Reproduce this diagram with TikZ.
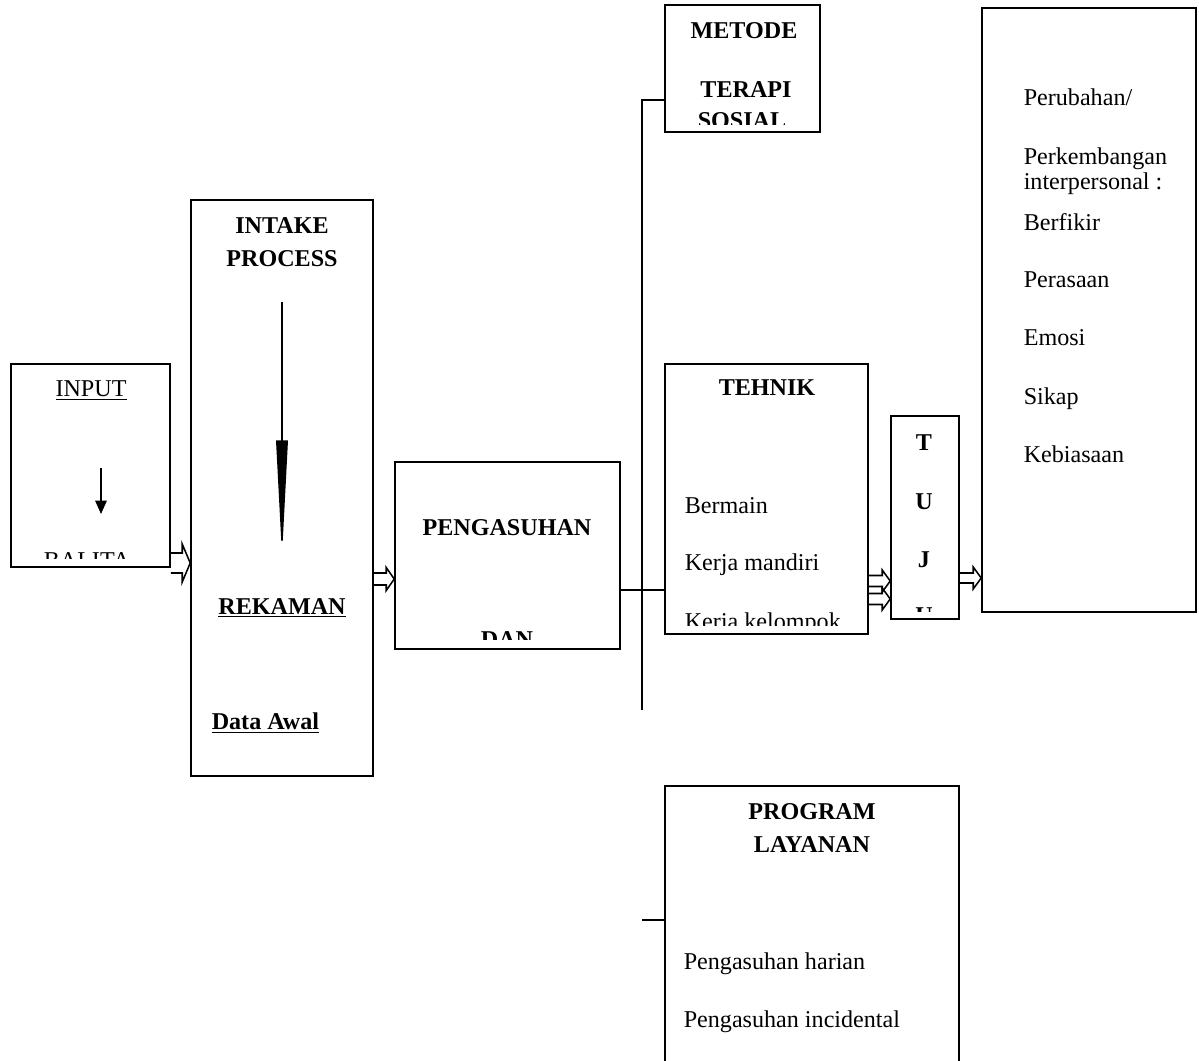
\documentclass[tikz,border=0pt]{standalone}
\usepackage{fontspec}
\setmainfont{Liberation Serif}
\usetikzlibrary{arrows.meta}
\usetikzlibrary{fit}
\usetikzlibrary{calc}

\tikzset{
  kotak/.style={draw, line width=0.8pt, inner sep=0pt},
  teks/.style={inner sep=0pt, font=\fontsize{12.5}{14}\selectfont},
  tebal/.style={inner sep=0pt, font=\fontsize{12.5}{14}\selectfont\bfseries},
}

% hollow block arrow: from, to, y, shaft half width, head half width
\newcommand{\blokpanah}[5]{%
  \coordinate (bpA) at (#1 |- 0,#3);
  \coordinate (bpB) at (#2 |- 0,#3);
  \draw ($(bpA)+(0,-#4)$) -- ($(bpB)+(-8,-#4)$) -- ($(bpB)+(-8,-#5)$) -- (bpB)
    -- ($(bpB)+(-8,#5)$) -- ($(bpB)+(-8,#4)$) -- ($(bpA)+(0,#4)$);
}

\begin{document}
\begin{tikzpicture}[x=0.01822cm, y=-0.01822cm, line width=0.8pt]

    \useasboundingbox (0,0) rectangle (1199,1061);

    % boxes
    \node[kotak, fit={(11,364) (170,567)}] (input) {};
    \node[kotak, fit={(191,200) (373,776)}] (intake) {};
    \node[kotak, fit={(395,462) (620,649)}] (pengasuhan) {};
    \node[kotak, fit={(665,5) (820,132)}] (metode) {};
    \node[kotak, fit={(665,364) (868,634)}] (tehnik) {};
    \node[kotak, fit={(891,416) (959,619)}] (tuj) {};
    \node[kotak, fit={(982,8) (1196,612)}] (hasil) {};
    \node[kotak, fit={(665,786) (959,1080)}] (program) {};

    % INPUT
    \node[teks, anchor=base] (inputteks) at (91,396) {\underline{INPUT}};
    \coordinate (ia) at (101,468);
    \coordinate (ib) at (101,514);
    \draw [-{Triangle[length=7pt,width=6pt]}] (ia) -- (ib);
    \begin{scope}
      \clip (11,364) rectangle (170,558);
      \node[teks, anchor=base] (balita) at (87,568) {BALITA};
    \end{scope}

    % INTAKE PROCESS
    \node[tebal, anchor=base] (intaketeks) at (282,233) {INTAKE};
    \node[tebal, anchor=base] (processteks) at (282,266) {PROCESS};
    \coordinate (ka) at (282,302);
    \coordinate (kb) at (282,556);
    \draw [-{Triangle[length=60pt,width=6pt]}] (ka) -- (kb);
    \node[tebal, anchor=base] (rekaman) at (282,614) {\underline{REKAMAN}};
    \node[tebal, anchor=base west] (dataawal) at (211,729) {\underline{Data Awal}};

    % PENGASUHAN
    \node[tebal, anchor=base] (pengteks) at (507,535) {PENGASUHAN};
    \begin{scope}
      \clip (395,462) rectangle (620,639);
      \node[tebal, anchor=base] (dan) at (507,647) {DAN};
    \end{scope}

    % METODE
    \node[tebal, anchor=base] (metodeteks) at (744,38) {METODE};
    \node[tebal, anchor=base] (terapi) at (746,97) {TERAPI};
    \begin{scope}
      \clip (665,5) rectangle (820,124);
      \node[tebal, anchor=base] (sosial) at (742,128) {SOSIAL};
    \end{scope}

    % TEHNIK
    \node[tebal, anchor=base] (tehnikteks) at (767,395) {TEHNIK};
    \node[teks, anchor=base west] (bermain) at (684,513) {Bermain};
    \node[teks, anchor=base west] (mandiri) at (684,570) {Kerja mandiri};
    \begin{scope}
      \clip (665,364) rectangle (868,625);
      \node[teks, anchor=base west] (kelompok) at (684,629) {Kerja kelompok};
    \end{scope}

    % TUJ
    \node[tebal, anchor=base] (t1) at (924,450) {T};
    \node[tebal, anchor=base] (t2) at (924,509) {U};
    \node[tebal, anchor=base] (t3) at (924,567) {J};
    \begin{scope}
      \clip (891,416) rectangle (959,611);
      \node[tebal, anchor=base] (t4) at (924,623) {U};
    \end{scope}

    % hasil
    \node[teks, anchor=base west] (h1) at (1023,105) {Perubahan/};
    \node[teks, anchor=base west] (h2) at (1023,164) {Perkembangan};
    \node[teks, anchor=base west] (h3) at (1023,189) {interpersonal :};
    \node[teks, anchor=base west] (h4) at (1023,230) {Berfikir};
    \node[teks, anchor=base west] (h5) at (1023,287) {Perasaan};
    \node[teks, anchor=base west] (h6) at (1023,345) {Emosi};
    \node[teks, anchor=base west] (h7) at (1023,404) {Sikap};
    \node[teks, anchor=base west] (h8) at (1023,462) {Kebiasaan};

    % PROGRAM LAYANAN
    \node[tebal, anchor=base] (programteks) at (812,819) {PROGRAM};
    \node[tebal, anchor=base] (layanan) at (812,852) {LAYANAN};
    \node[teks, anchor=base west] (harian) at (683,969) {Pengasuhan harian};
    \node[teks, anchor=base west] (incidental) at (683,1027) {Pengasuhan incidental};

    % connectors
    \blokpanah{input.east}{intake.west}{563}{10}{19}
    \blokpanah{intake.east}{pengasuhan.west}{579}{6}{11.5}
    \blokpanah{tehnik.east}{tuj.west}{581}{5.5}{11}
    \blokpanah{tehnik.east}{tuj.west}{599}{5.5}{11}
    \blokpanah{tuj.east}{hasil.west}{578}{5}{11}

    \coordinate (vatas) at (642,100);
    \coordinate (vbawah) at (642,710);
    \coordinate (vprog) at (642,920);
    \draw (metode.west |- vatas) -- (vatas) -- (vbawah);
    \draw (pengasuhan.east |- 0,590) -- (tehnik.west |- 0,590);
    \draw (vprog) -- (program.west |- vprog);

\end{tikzpicture}
\end{document}
